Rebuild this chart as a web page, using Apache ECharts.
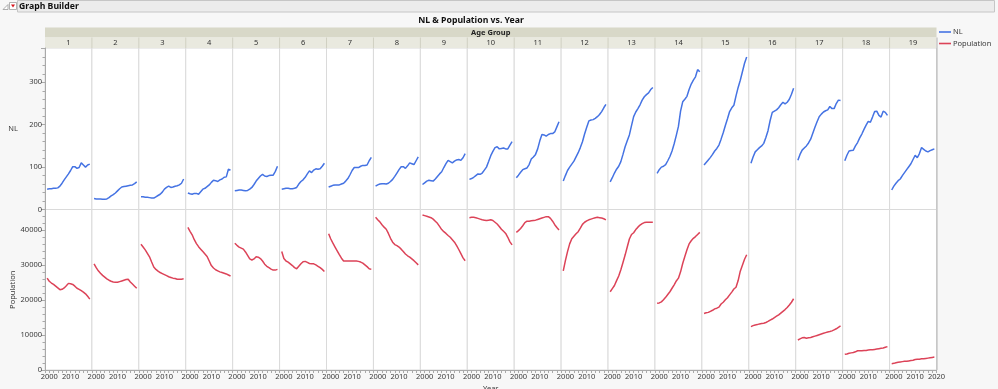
<!DOCTYPE html>
<html><head><meta charset="utf-8">
<script src="https://cdn.jsdelivr.net/npm/echarts@6/dist/echarts.min.js"></script>
<style>html,body{margin:0;padding:0;background:#f7f7f7}#c{width:998px;height:389px}</style>
</head><body><div id="c"></div>
<script>
// ---------------- data ----------------
const years = [1999,2000,2001,2002,2003,2004,2005,2006,2007,2008,2009,2010,2011,2012,2013,2014,2015,2016,2017,2018,2019];
const ageGroups = ['1','2','3','4','5','6','7','8','9','10','11','12','13','14','15','16','17','18','19'];
const xTickLabels = [2000, 2010, 2020];
const nlTickLabels = [0, 100, 200, 300];
const popTickLabels = [0, 10000, 20000, 30000, 40000];

const nl_1  = [48,49,49,50,50,51,55,62,70,77,84,92,101,101,97,99,110,105,100,105,107];
const nl_2  = [26,25,25,25,24,24,25,28,32,35,39,44,49,53,54,55,56,57,58,61,65];
const nl_3  = [30,30,29,29,28,27,27,30,33,36,41,48,52,55,52,53,55,56,58,62,72];
const nl_4  = [39,37,36,38,38,36,42,48,50,54,58,64,69,68,66,70,72,76,77,95,93];
const nl_5  = [44,45,46,46,45,44,45,48,52,59,67,73,79,83,79,78,80,81,81,90,102];
const nl_6  = [48,49,50,50,49,49,50,52,60,66,70,76,84,91,87,93,96,95,96,102,109];
const nl_7  = [53,55,57,58,58,58,60,62,67,73,82,92,99,99,99,102,104,104,105,115,123];
const nl_8  = [55,58,60,61,61,60,62,66,71,78,86,94,101,101,97,103,110,108,106,115,124];
const nl_9  = [59,63,67,69,68,67,72,78,84,89,99,108,116,113,110,114,117,118,116,122,132];
const nl_10 = [71,73,76,80,84,83,86,93,100,113,127,137,146,148,143,144,145,143,143,152,160];
const nl_11 = [75,81,88,94,96,98,106,119,124,130,143,162,177,176,173,177,179,179,183,195,207];
const nl_12 = [67,80,92,100,107,114,124,134,146,160,178,194,209,211,212,215,219,224,231,240,248];
const nl_13 = [65,75,86,95,102,113,130,148,162,176,198,219,230,238,247,258,266,271,275,283,288];
const nl_14 = [85,94,100,102,106,115,125,138,155,175,196,232,254,260,267,283,296,305,313,330,325];
const nl_15 = [105,111,117,123,130,138,144,152,166,181,198,214,231,240,246,268,288,305,325,345,360];
const nl_16 = [109,124,136,141,146,150,156,170,186,210,229,232,235,240,247,253,249,253,260,272,286];
const nl_17 = [116,130,140,145,150,157,166,180,194,207,219,225,230,233,235,243,238,238,250,258,257];
const nl_18 = [115,128,138,139,140,150,158,169,178,189,199,208,206,218,231,232,222,218,232,229,222];
const nl_19 = [46,55,62,68,72,80,87,94,101,108,118,128,122,132,146,142,138,136,139,141,143];

const pop_1  = [26300,25400,24900,24500,24000,23500,23000,23100,23500,24100,24800,24700,24500,24000,23400,23100,22700,22300,21800,21100,20300];
const pop_2  = [30400,29300,28400,27700,27100,26600,26100,25700,25400,25200,25100,25100,25300,25500,25700,25900,26000,25200,24600,24000,23400];
const pop_3  = [36000,35200,34400,33400,32400,30900,29500,28800,28300,27900,27600,27300,27000,26700,26500,26300,26200,26000,26000,26000,26100];
const pop_4  = [40800,39700,38700,37300,36200,35300,34600,33900,33200,32500,31200,29900,29200,28700,28400,28100,27900,27700,27500,27200,26900];
const pop_5  = [36300,35700,35200,34900,34600,33800,32800,31800,31500,31800,32400,32300,31900,31200,30300,29700,29300,28900,28600,28600,28800];
const pop_6  = [33900,31900,31200,30900,30400,29900,29300,29000,29700,30400,31000,31100,30800,30500,30400,30400,30100,29700,29300,28800,28200];
const pop_7  = [39000,37500,36300,35200,34100,33000,32000,31200,31200,31200,31200,31200,31200,31200,31100,30900,30600,30100,29600,29000,28800];
const pop_8  = [43700,43000,42400,41600,40900,40300,39100,37700,36600,35900,35600,35200,34600,33900,33200,32700,32300,31800,31300,30700,30100];
const pop_9  = [44400,44200,44000,43800,43600,43200,42600,42000,41100,40200,39600,39100,38500,38000,37300,36600,35600,34500,33300,32100,31300];
const pop_10 = [43600,43700,43700,43600,43400,43200,43000,42900,42800,42900,43000,42800,42300,41800,41100,40300,39700,39100,38000,36700,35800];
const pop_11 = [39400,39900,40500,41300,42200,42600,42600,42700,42800,42900,43100,43300,43500,43700,43900,43900,43400,42600,41600,40800,40100];
const pop_12 = [28400,31300,33900,36100,37600,38300,39000,39600,40600,41700,42300,42700,43000,43200,43400,43600,43700,43600,43500,43300,43000];
const pop_13 = [22400,23300,24200,25600,26900,28700,30800,32900,35200,37500,38800,39300,40200,40900,41500,41900,42200,42300,42300,42300,42300];
const pop_14 = [19100,19200,19500,20100,20800,21600,22400,23400,24400,25500,26300,28100,30500,32500,34400,36100,37000,37700,38200,38800,39400];
const pop_15 = [16200,16400,16500,16800,17100,17500,17700,18000,18900,19400,20100,20700,21500,22300,23200,23700,25600,28300,30000,31700,33000];
const pop_16 = [12400,12700,12900,13000,13200,13300,13400,13600,13900,14300,14600,15000,15400,15800,16300,16800,17300,17900,18600,19400,20400];
const pop_17 = [8600,8900,9200,9300,9100,9200,9300,9500,9700,9900,10100,10300,10500,10700,10900,11000,11200,11500,11800,12200,12600];
const pop_18 = [4500,4600,4800,4900,5000,5200,5500,5500,5500,5600,5600,5700,5800,5800,5900,6000,6100,6200,6300,6500,6700];
const pop_19 = [1800,1900,2100,2200,2300,2400,2500,2500,2600,2700,2800,3000,3100,3100,3200,3200,3300,3400,3500,3600,3700];

const nlValues = [nl_1,nl_2,nl_3,nl_4,nl_5,nl_6,nl_7,nl_8,nl_9,nl_10,nl_11,nl_12,nl_13,nl_14,nl_15,nl_16,nl_17,nl_18,nl_19];
const popValues = [pop_1,pop_2,pop_3,pop_4,pop_5,pop_6,pop_7,pop_8,pop_9,pop_10,pop_11,pop_12,pop_13,pop_14,pop_15,pop_16,pop_17,pop_18,pop_19];

// ---------------- layout / style ----------------
const FONT = 'Noto Sans';
const BLUE = '#4573e3';
const RED = '#dc4358';
const PL = 45, PR = 936.5;
const N = ageGroups.length;
const PW = (PR - PL) / N;
const TOP1 = 48, H1 = 161.5;        // NL row
const TOP2 = 209.5, H2 = 160.5;     // Population row
const AXIS_C = '#a9a9a9';
const TXT = '#3a3a3a';

const grid = [], xAxis = [], yAxis = [], series = [];
for (let r = 0; r < 2; r++) {
  for (let i = 0; i < N; i++) {
    const idx = r * N + i;
    grid.push({
      left: PL + i * PW, width: PW,
      top: r === 0 ? TOP1 : TOP2, height: r === 0 ? H1 : H2,
      show: true, backgroundColor: '#ffffff', borderColor: '#dadada', borderWidth: 1
    });
    const isLast = i === N - 1;
    xAxis.push({
      type: 'value', gridIndex: idx, min: 1998, max: 2020, interval: 2,
      axisLine: { show: r === 1, onZero: false, lineStyle: { color: AXIS_C, width: 1 } },
      axisTick: { show: r === 1, length: 3, lineStyle: { color: AXIS_C } },
      axisLabel: {
        show: r === 1, fontSize: 7.5, fontFamily: FONT, color: TXT, margin: 3,
        showMinLabel: true, showMaxLabel: true, hideOverlap: false,
        formatter: v => (xTickLabels.indexOf(v) >= 0 && (v < 2020 || isLast)) ? String(v) : ''
      },
      splitLine: { show: false }
    });
    const first = i === 0;
    const labels = r === 0 ? nlTickLabels : popTickLabels;
    yAxis.push({
      type: 'value', gridIndex: idx,
      min: 0, max: r === 0 ? 381 : 45950, interval: r === 0 ? 100 : 10000,
      axisLine: { show: first, lineStyle: { color: AXIS_C, width: 1 } },
      axisTick: { show: first, length: 4, lineStyle: { color: AXIS_C } },
      minorTick: { show: first, splitNumber: 5, length: 2.5, lineStyle: { color: AXIS_C } },
      axisLabel: {
        show: first, fontSize: 7.5, fontFamily: FONT, color: TXT, margin: 3,
        showMaxLabel: false,
        formatter: v => labels.indexOf(v) >= 0 ? String(v) : ''
      },
      splitLine: { show: false }
    });
    const vals = r === 0 ? nlValues[i] : popValues[i];
    series.push({
      name: r === 0 ? 'NL' : 'Population',
      type: 'line', xAxisIndex: idx, yAxisIndex: idx,
      data: years.map((y, k) => [y, vals[k]]),
      showSymbol: false, symbol: 'none', silent: true,
      lineStyle: { width: 1.5, color: r === 0 ? BLUE : RED },
      itemStyle: { color: r === 0 ? BLUE : RED },
      animation: false
    });
  }
}

// ---------------- decorations ----------------
const graphic = [];
// top outline bar
graphic.push({ type: 'rect', shape: { x: 17.5, y: 0.5, width: 977, height: 11.5 }, style: { fill: '#ececec', stroke: '#c6c6c6', lineWidth: 1 }, silent: true });
graphic.push({ type: 'polygon', shape: { points: [[3, 9.5], [8, 9.5], [8, 4.5]] }, style: { fill: '#ffffff', stroke: '#9a9a9a', lineWidth: 0.8 }, silent: true });
graphic.push({ type: 'rect', shape: { x: 9.5, y: 2.5, width: 7, height: 7 }, style: { fill: '#ffffff', stroke: '#a0a0a0', lineWidth: 0.8 }, silent: true });
graphic.push({ type: 'polygon', shape: { points: [[11, 4.5], [15, 4.5], [13, 7.5]] }, style: { fill: '#d8141c' }, silent: true });
graphic.push({ type: 'text', x: 19, y: 6.3, style: { text: 'Graph Builder', font: 'bold 8.7px "Noto Sans"', fill: '#111', verticalAlign: 'middle', align: 'left' }, silent: true });
// title
graphic.push({ type: 'text', x: 471, y: 20.3, style: { text: 'NL & Population vs. Year', font: 'bold 8.7px "Noto Sans"', fill: '#111', align: 'center', verticalAlign: 'middle' }, silent: true });
// strips
graphic.push({ type: 'rect', shape: { x: PL, y: 27.5, width: PR - PL, height: 10 }, style: { fill: '#d8d8c8' }, silent: true });
graphic.push({ type: 'text', x: (PL + PR) / 2, y: 32.6, style: { text: 'Age Group', font: 'bold 7.5px "Noto Sans"', fill: '#222', align: 'center', verticalAlign: 'middle' }, silent: true });
graphic.push({ type: 'rect', shape: { x: PL, y: 37.5, width: PR - PL, height: 10.5 }, style: { fill: '#e9e9df' }, silent: true });
for (let i = 0; i < N; i++) {
  graphic.push({ type: 'text', x: PL + (i + 0.5) * PW, y: 42.8, style: { text: ageGroups[i], font: '7.5px "Noto Sans"', fill: '#333', align: 'center', verticalAlign: 'middle' }, silent: true });
  if (i > 0) graphic.push({ type: 'line', shape: { x1: PL + i * PW, y1: 37.5, x2: PL + i * PW, y2: 48 }, style: { stroke: '#d0d0c2', lineWidth: 1 }, silent: true });
}
// right frame
graphic.push({ type: 'line', shape: { x1: PR + 0.5, y1: 37.5, x2: PR + 0.5, y2: 370 }, style: { stroke: '#b4b4b4', lineWidth: 1 }, silent: true });
// axis titles
graphic.push({ type: 'text', x: 13, y: (TOP1 + TOP1 + H1) / 2, style: { text: 'NL', font: '7.5px "Noto Sans"', fill: TXT, align: 'center', verticalAlign: 'middle' }, silent: true });
graphic.push({ type: 'text', x: 13, y: (TOP2 + TOP2 + H2) / 2, rotation: Math.PI / 2, style: { text: 'Population', font: '7.5px "Noto Sans"', fill: TXT, align: 'center', verticalAlign: 'middle' }, silent: true });
graphic.push({ type: 'text', x: (PL + PR) / 2, y: 384.5, style: { text: 'Year', font: '7.5px "Noto Sans"', fill: TXT, align: 'center', verticalAlign: 'top' }, silent: true });

const chart = echarts.init(document.getElementById('c'), null, { renderer: 'canvas' });
chart.setOption({
  backgroundColor: '#f7f7f7',
  animation: false,
  textStyle: { fontFamily: FONT },
  legend: {
    data: ['NL', 'Population'], orient: 'vertical', left: 939, top: 28,
    icon: 'rect', itemWidth: 12, itemHeight: 1.6, itemGap: 3.5, padding: 0,
    textStyle: { fontSize: 7.5, fontFamily: FONT, color: TXT, padding: [0, 0, 0, -3] },
    selectedMode: false
  },
  grid, xAxis, yAxis, series, graphic
});
</script></body></html>
